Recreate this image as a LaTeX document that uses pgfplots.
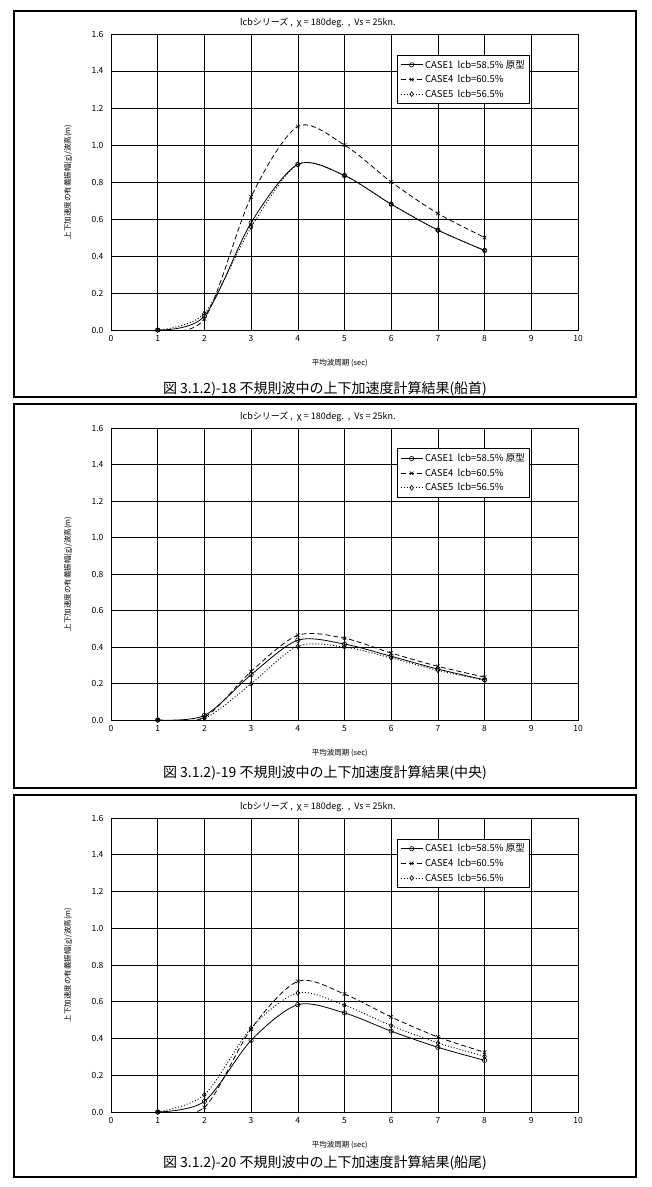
\documentclass[border=0pt]{standalone}
\usepackage{fontspec}
\setmainfont{Noto Sans CJK JP}
\usepackage{pgfplots}
\usepackage{pgfplotstable}
\pgfplotsset{compat=1.18}

\pgfplotstableread{
x c1 c4 c5
1 0 0 0
2 0.075 0.06 0.09
3 0.58 0.72 0.555
4 0.895 1.10 0.895
5 0.835 1.00 0.835
6 0.68 0.80 0.68
7 0.54 0.63 0.54
8 0.43 0.50 0.43
}\bow
\pgfplotstableread{
x c1 c4 c5
1 0 0 0
2 0.025 0.015 0.01
3 0.248 0.266 0.198
4 0.437 0.464 0.404
5 0.416 0.448 0.400
6 0.349 0.367 0.340
7 0.279 0.294 0.272
8 0.220 0.235 0.217
}\mid
\pgfplotstableread{
x c1 c4 c5
1 0 0 0
2 0.058 0.025 0.094
3 0.39 0.452 0.457
4 0.584 0.711 0.648
5 0.539 0.642 0.581
6 0.44 0.517 0.47
7 0.352 0.408 0.376
8 0.281 0.325 0.303
}\stern

\pgfplotsset{
  panel/.style={
    scale only axis, width=467pt,
    xmin=0, xmax=10, ymin=0, ymax=1.6,
    xtick={0,1,...,10}, ytick={0,0.2,...,1.6},
    grid=major, major grid style={black, line width=0.5pt},
    axis line style={black, line width=0.9pt},
    major tick length=0pt,
    /pgf/number format/assume math mode=true,
    tick label style={font=\fontsize{8.5}{10}\selectfont},
    yticklabel style={/pgf/number format/fixed, /pgf/number format/fixed zerofill, /pgf/number format/precision=1, xshift=-4pt},
    xticklabel style={yshift=-2pt},
    title={lcbシリーズ\ ,\ \ χ\ =\ 180deg.\ \ ,\ \ Vs\ =\ 25kn.},
    title style={at={(axis description cs:0.443,1)}, anchor=center, yshift=5pt, font=\fontsize{9}{10}\selectfont},
    xlabel={平均波周期 (sec)},
    xlabel style={at={(axis description cs:0.49,0)}, anchor=center, yshift=-33pt, font=\fontsize{7.5}{9}\selectfont},
    ylabel={上下加速度の有義振幅(g)/波高(m)},
    ylabel style={at={(axis description cs:-0.092,0.5)}, anchor=center, font=\fontsize{7.5}{9}\selectfont},
    legend style={at={(axis description cs:0.612,0.93)}, anchor=north west, draw=black, line width=0.8pt,
      font=\fontsize{9.5}{11}\selectfont, row sep=1.5pt, inner sep=3pt, cells={anchor=west}},
    legend image code/.code={\draw[mark repeat=2,mark phase=2] plot coordinates {(0pt,0pt) (11pt,0pt) (22pt,0pt)};},
    legend cell align=left,
  },
  s1/.style={black, line width=0.8pt, smooth, mark=o, mark size=2.2pt, mark options={solid, line width=0.6pt}},
  s4/.style={black, line width=0.8pt, smooth, dash pattern=on 5pt off 3pt, mark=x, mark size=2.5pt, mark options={solid, line width=0.6pt}},
  s5/.style={black, line width=0.9pt, smooth, dash pattern=on 1pt off 2pt, mark=diamond, mark size=2.4pt, mark options={solid, line width=0.6pt}},
}

\begin{document}
\begin{tikzpicture}[x=1pt,y=1pt]
\useasboundingbox (0,0) rectangle (652,1187);
% frames
\draw[line width=1.1pt] (14,1176) rectangle (636,790);
\draw[line width=1.1pt] (14,783) rectangle (636,399);
\draw[line width=1.1pt] (14,392) rectangle (636,10);

% panel 1
\begin{axis}[panel, at={(111pt,857pt)}, anchor=south west, height=296pt]
\addplot[s1] table[x=x,y=c1] {\bow};
\addplot[s4] table[x=x,y=c4] {\bow};
\addplot[s5] table[x=x,y=c5] {\bow};
\legend{CASE1\ \ lcb=58.5\%\ 原型, CASE4\ \ lcb=60.5\%, CASE5\ \ lcb=56.5\%}
\end{axis}
\node[font=\fontsize{14}{16}\selectfont] at (325,798) {図 3.1.2)-18 不規則波中の上下加速度計算結果(船首)};

% panel 2
\begin{axis}[panel, at={(111pt,467pt)}, anchor=south west, height=292pt]
\addplot[s1] table[x=x,y=c1] {\mid};
\addplot[s4] table[x=x,y=c4] {\mid};
\addplot[s5] table[x=x,y=c5] {\mid};
\legend{CASE1\ \ lcb=58.5\%\ 原型, CASE4\ \ lcb=60.5\%, CASE5\ \ lcb=56.5\%}
\end{axis}
\node[font=\fontsize{14}{16}\selectfont] at (325,414) {図 3.1.2)-19 不規則波中の上下加速度計算結果(中央)};

% panel 3
\begin{axis}[panel, at={(111pt,75pt)}, anchor=south west, height=294pt]
\addplot[s1] table[x=x,y=c1] {\stern};
\addplot[s4] table[x=x,y=c4] {\stern};
\addplot[s5] table[x=x,y=c5] {\stern};
\legend{CASE1\ \ lcb=58.5\%\ 原型, CASE4\ \ lcb=60.5\%, CASE5\ \ lcb=56.5\%}
\end{axis}
\node[font=\fontsize{14}{16}\selectfont] at (325,24) {図 3.1.2)-20 不規則波中の上下加速度計算結果(船尾)};
\end{tikzpicture}
\end{document}
